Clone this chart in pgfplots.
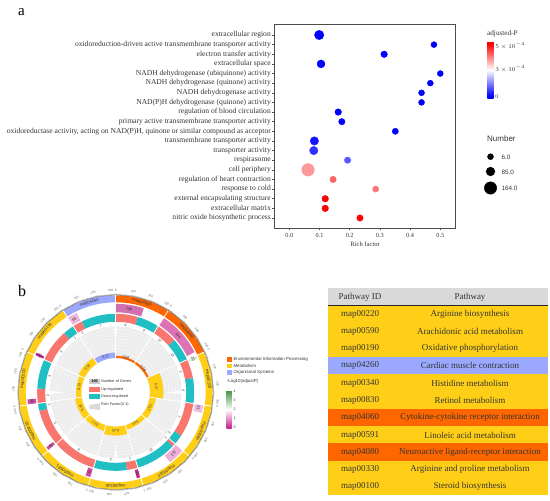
\documentclass[border=0pt]{standalone}
\usepackage{fontspec}
\setmainfont{Liberation Serif}
\setsansfont{Liberation Sans}
\usepackage{pgfplots}
\pgfplotsset{compat=1.18}
\usepgfplotslibrary{polar}
\usepackage{pgfplotstable}

\definecolor{envc}{HTML}{FF6600}
\definecolor{metc}{HTML}{FFCF17}
\definecolor{orgc}{HTML}{9AA9FF}
\definecolor{upc}{HTML}{F8766D}
\definecolor{dnc}{HTML}{1FBFC3}
\definecolor{txt}{HTML}{333333}
\newcommand{\fs}[1]{\fontsize{#1}{#1}\selectfont}
\tikzset{
  tab/.style={font=\fs{9},text=txt,inner sep=0pt},
  leg/.style={font=\sffamily\fs{4.4},text=txt,anchor=west,inner sep=0pt},
  ol/.style={font=\sffamily\fs{3},text=black!60,inner sep=0pt},
  sl/.style={font=\sffamily\fs{4.2},text=txt,inner sep=0pt},
  nl/.style={font=\sffamily\fs{3.8},text=txt,inner sep=0pt},
  il/.style={font=\sffamily\fs{3.5},text=txt,inner sep=0pt},
}

% rich factor, row, mark radius, adjusted-P (x 1e-4)
\pgfplotstableread{
x y r p
0.099 1 4.7 0
0.479 2 3.0 0
0.314 3 3.3 0
0.105 4 4.0 0
0.500 5 3.0 0
0.467 6 3.0 0
0.438 7 3.0 0
0.438 8 3.0 0
0.162 9 3.3 0
0.174 10 3.2 0
0.351 11 3.1 0
0.083 12 4.2 0.2
0.081 13 4.2 0.5
0.193 14 3.2 0.9
0.062 15 6.3 3.65
0.145 16 3.2 4.2
0.286 17 3.1 4.0
0.119 18 3.3 5.4
0.119 19 3.3 5.4
0.234 20 3.2 5.4
}\bubbles

% arc in the polar axis: clockwise degrees from north
\newcommand{\seg}[5][]{% opts, radius, width, from, to
  \gdef\pts{}%
  \foreach \i in {0,...,8}{%
    \pgfmathsetmacro\a{90-(#4+(#5-#4)*\i/8)}%
    \xdef\pts{\pts (\a,#2)}}%
  \edef\temp{\noexpand\addplot[line width=#3pt,#1] coordinates {\pts};}\temp}
\newcommand{\lab}[4]{% style, angle, radius, text
  \pgfmathsetmacro\a{90-#2}\pgfmathsetmacro\rr{0-#2}%
  \edef\temp{\noexpand\node[#1,rotate=\rr] at (axis cs:\a,#3) {#4};}\temp}
\newcommand{\ray}[4][white]{% colour, angle, r1, r2
  \pgfmathsetmacro\a{90-#2}%
  \edef\temp{\noexpand\addplot[draw=#1,line width=.8pt] coordinates {(\a,#3)(\a,#4)};}\temp}
% table row in the page axis
\newcommand{\trow}[6]{% colour, y1, y2, ycentre, id, pathway
  \addplot[fill=#1,draw=none] coordinates {(328,#2)(548,#2)(548,#3)(328,#3)} --cycle;
  \node[tab] at (axis cs:360,#4) {#5};
  \node[tab] at (axis cs:470,#4) {#6};}

\begin{document}
\begin{tikzpicture}
\useasboundingbox (0,0) rectangle (550pt,501pt);

% page axis: 1 unit = 1 px of the reference, y downwards
\begin{axis}[
  at={(0pt,0pt)},anchor=south west,
  scale only axis,width=550pt,height=501pt,
  xmin=0,xmax=550,ymin=0,ymax=501,y dir=reverse,
  hide axis,clip=false,
]
\node[font=\fs{15},anchor=west,inner sep=0pt] at (axis cs:18,12) {a};
\node[font=\fs{16},anchor=west,inner sep=0pt] at (axis cs:18,291) {b};

% size legend of the bubble plot
\node[font=\sffamily\fs{8},text=txt,anchor=west,inner sep=0pt] at (axis cs:487,139) {Number};
\addplot[only marks,mark=*,black,mark size=3] coordinates {(490.5,156.7)};
\addplot[only marks,mark=*,black,mark size=4.4] coordinates {(490.5,171.5)};
\addplot[only marks,mark=*,black,mark size=6.2] coordinates {(490.5,188)};
\node[font=\sffamily\fs{6.3},text=txt,anchor=west,inner sep=0pt] at (axis cs:501.5,157) {6.0};
\node[font=\sffamily\fs{6.3},text=txt,anchor=west,inner sep=0pt] at (axis cs:501.5,172) {85.0};
\node[font=\sffamily\fs{6.3},text=txt,anchor=west,inner sep=0pt] at (axis cs:501.5,188) {164.0};
\node[font=\fs{7.2},text=txt,anchor=west,inner sep=0pt] at (axis cs:487,34) {adjusted-P};

% table
\addplot[fill=black!15,draw=none] coordinates {(328,288.3)(548,288.3)(548,305)(328,305)} --cycle;
\node[tab] at (axis cs:360,297) {Pathway ID};
\node[tab] at (axis cs:470,297) {Pathway};
\trow{metc}{305}{322.3}{314}{map00220}{Arginine biosynthesis}
\trow{metc}{322.3}{339.5}{331.3}{map00590}{Arachidonic acid metabolism}
\trow{metc}{339.5}{356.8}{348.6}{map00190}{Oxidative phosphorylation}
\trow{orgc}{356.8}{374.1}{365.9}{map04260}{Cardiac muscle contraction}
\trow{metc}{374.1}{391.4}{383.2}{map00340}{Histidine metabolism}
\trow{metc}{391.4}{408.6}{400.4}{map00830}{Retinol metabolism}
\trow{envc}{408.6}{425.9}{417.7}{map04060}{Cytokine-cytokine receptor interaction}
\trow{metc}{425.9}{443.2}{435}{map00591}{Linoleic acid metabolism}
\trow{envc}{443.2}{460.5}{452.3}{map04080}{Neuroactive ligand-receptor interaction}
\trow{metc}{460.5}{477.7}{469.6}{map00330}{Arginine and proline metabolism}
\trow{metc}{477.7}{495}{486.8}{map00100}{Steroid biosynthesis}
\addplot[black!85,line width=.9pt] coordinates {(328,305)(548,305)};

% legend of the circular plot
\addplot[fill=envc,draw=none] coordinates {(227,357.3)(231.7,357.3)(231.7,362)(227,362)} --cycle;
\addplot[fill=metc,draw=none] coordinates {(227,363.7)(231.7,363.7)(231.7,368.3)(227,368.3)} --cycle;
\addplot[fill=orgc,draw=none] coordinates {(227,370.2)(231.7,370.2)(231.7,374.8)(227,374.8)} --cycle;
\node[leg] at (axis cs:233.3,359.7) {Environmental Information Processing};
\node[leg] at (axis cs:233.3,366) {Metabolism};
\node[leg] at (axis cs:233.3,372.5) {Organismal Systems};
\node[leg] at (axis cs:226.7,381.7) {-Log10(adjustP)};
\node[leg,font=\sffamily\fs{3.6}] at (axis cs:233.3,391.7) {4};
\node[leg,font=\sffamily\fs{3.6}] at (axis cs:233.3,400.7) {3};
\node[leg,font=\sffamily\fs{3.6}] at (axis cs:233.3,409.3) {2};
\node[leg,font=\sffamily\fs{3.6}] at (axis cs:233.3,418.3) {1};
\node[leg,font=\sffamily\fs{3.6}] at (axis cs:233.3,427.7) {0};

% legend in the middle of the ring
\addplot[fill=black!20,draw=none] coordinates {(89.3,379)(100,379)(100,384)(89.3,384)} --cycle;
\addplot[fill=upc,draw=none] coordinates {(89.3,386.7)(100,386.7)(100,391.7)(89.3,391.7)} --cycle;
\addplot[fill=dnc,draw=none] coordinates {(89.3,394.3)(100,394.3)(100,399.3)(89.3,399.3)} --cycle;
\addplot[fill=black!15,draw=none] coordinates {(89.3,405)(100,403.3)(100,410)(89.3,408.7)} --cycle;
\node[font=\sffamily\bfseries\fs{3.8},inner sep=0pt] at (axis cs:94.6,381.6) {100};
\node[leg,font=\sffamily\fs{3.8}] at (axis cs:101,381.4) {Number of Genes};
\node[leg,font=\sffamily\fs{3.8}] at (axis cs:101,389.3) {Up-regulated};
\node[leg,font=\sffamily\fs{3.8}] at (axis cs:101,396.8) {Down-regulated};
\node[leg,font=\sffamily\fs{3.8}] at (axis cs:101,404.4) {Rich Factor(0-1)};
\end{axis}

% bubble plot
\begin{axis}[
  at={(274.5pt,273pt)},anchor=south west,
  scale only axis,width=181.2pt,height=203.3pt,
  xmin=-0.049,xmax=0.551,ymin=-0.07,ymax=21.04,y dir=reverse,
  axis line style={draw=black!70,line width=.7pt},
  tick style={draw=black!70,line width=.5pt},
  tick align=outside,major tick length=2pt,
  xtick={0,0.1,0.2,0.3,0.4,0.5},
  ytick={1,...,20},
  xtick pos=bottom,ytick pos=left,
  /pgf/number format/assume math mode=true,
  xticklabel style={font=\fs{6.3},text=txt,/pgf/number format/fixed,/pgf/number format/fixed zerofill,/pgf/number format/precision=1},
  yticklabel style={font=\fs{7.58},text=txt,inner sep=1.5pt},
  yticklabels={extracellular region,
    oxidoreduction-driven active transmembrane transporter activity,
    electron transfer activity,
    extracellular space,
    NADH dehydrogenase (ubiquinone) activity,
    NADH dehydrogenase (quinone) activity,
    NADH dehydrogenase activity,
    NAD(P)H dehydrogenase (quinone) activity,
    regulation of blood circulation,
    primary active transmembrane transporter activity,
    {oxidoreductase activity, acting on NAD(P)H, quinone or similar compound as acceptor},
    transmembrane transporter activity,
    transporter activity,
    respirasome,
    cell periphery,
    regulation of heart contraction,
    response to cold,
    external encapsulating structure,
    extracellular matrix,
    nitric oxide biosynthetic process},
  xlabel={Rich factor},
  xlabel style={font=\fs{6.6},text=txt,yshift=3pt},
  colormap={bwr}{rgb255(0)=(0,0,255); rgb255(1)=(0,0,255); rgb255(14)=(255,255,255); rgb255(27)=(255,0,0); rgb255(28)=(255,0,0)},
  point meta min=-0.2,point meta max=5.4,
  colorbar,
  colorbar style={
    at={(parent axis.south west)},anchor=north west,
    xshift=204.3pt,yshift=186.3pt,
    width=6.4pt,height=56.6pt,
    ytick={0,2.7,5},
    yticklabels={0,$3\times10^{-4}$,$5\times10^{-4}$},
    yticklabel style={font=\fs{5.6},text=txt,inner sep=1.5pt},
    major tick length=0pt,
    axis line style={draw=none},
  },
]
\addplot[scatter,only marks,mark=*,
  point meta=\thisrow{p},
  visualization depends on={\thisrow{r} \as \rad},
  scatter/use mapped color={draw=mapped color,fill=mapped color},
  scatter/@pre marker code/.append style={/tikz/mark size=\rad}]
  table[x=x,y=y] {\bubbles};
\end{axis}

% -log10 colour bar of the circular plot
\begin{axis}[
  at={(226.7pt,72pt)},anchor=south west,
  scale only axis,width=5pt,height=39pt,hide axis,
  colormap={pg}{rgb255(0)=(199,16,138); rgb255(2)=(255,255,255); rgb255(4)=(63,143,59)},
  point meta min=-0.1,point meta max=4.1,
  colorbar,
  colorbar style={
    at={(parent axis.south west)},anchor=south west,
    xshift=-8.5pt,
    width=5pt,height=39pt,
    ytick=\empty,
    axis line style={draw=none},
  },
]
\addplot[draw=none] coordinates {(0,0)(1,1)};
\end{axis}

% circular plot
\begin{polaraxis}[
  at={(115.7pt,108.7pt)},anchor=center,
  scale only axis,width=200pt,height=200pt,
  xmin=0,xmax=360,ymin=0,ymax=100,
  hide axis,clip=false,
]
% grey background with its concentric lines
\seg[draw=black!7]{50.15}{31.7}{0}{90}
\seg[draw=black!7]{50.15}{31.7}{90}{180}
\seg[draw=black!7]{50.15}{31.7}{180}{270}
\seg[draw=black!7]{50.15}{31.7}{270}{360}
\foreach \rc in {37.5,40.7,43.9,47.1,50.3,53.5,56.7,59.9,63.1}{%
  \foreach \st in {0,90,180,270}{%
    \pgfmathsetmacro\en{\st+90}%
    \edef\next{\noexpand\seg[draw=white]{\rc}{0.2}{\st}{\en}}\next}}

% outer ring with pathway class
\seg[draw=envc]{93.5}{7}{0}{32.73}
\seg[draw=envc]{93.5}{7}{32.73}{65.45}
\seg[draw=metc]{93.5}{7}{65.45}{98.18}
\seg[draw=metc]{93.5}{7}{98.18}{130.91}
\seg[draw=metc]{93.5}{7}{130.91}{163.64}
\seg[draw=metc]{93.5}{7}{163.64}{196.36}
\seg[draw=metc]{93.5}{7}{196.36}{229.09}
\seg[draw=metc]{93.5}{7}{229.09}{261.82}
\seg[draw=metc]{93.5}{7}{261.82}{294.55}
\seg[draw=metc]{93.5}{7}{294.55}{327.27}
\seg[draw=orgc]{93.5}{7}{327.27}{360}

% number of genes
\seg[draw={rgb,255:red,211;green,111;blue,176}]{84.25}{8.5}{0}{18.5}
\seg[draw={rgb,255:red,221;green,115;blue,180}]{84.25}{8.5}{32.73}{63}
\seg[draw={rgb,255:red,214;green,232;blue,207}]{84.25}{8.5}{65.45}{67.5}
\seg[draw={rgb,255:red,240;green,190;blue,224}]{84.25}{8.5}{98.18}{103.5}
\seg[draw={rgb,255:red,238;green,176;blue,216}]{84.25}{8.5}{130.91}{142.2}
\seg[draw={rgb,255:red,200;green,40;blue,145}]{84.25}{8.5}{163.64}{166.2}
\seg[draw={rgb,255:red,212;green,79;blue,165}]{84.25}{8.5}{196.36}{200}
\seg[draw={rgb,255:red,208;green,80;blue,165}]{84.25}{8.5}{229.09}{231.6}
\seg[draw={rgb,255:red,208;green,80;blue,168}]{84.25}{8.5}{261.82}{265.4}
\seg[draw={rgb,255:red,184;green,32;blue,138}]{84.25}{8.5}{294.55}{296.6}
\seg[draw={rgb,255:red,239;green,181;blue,216}]{84.25}{8.5}{327.27}{333.8}

% up and down regulated genes
\seg[draw=upc]{74.5}{8}{0}{16.36}
\seg[draw=dnc]{74.5}{8}{16.36}{32.73}
\seg[draw=upc]{74.5}{8}{32.73}{48.4}
\seg[draw=dnc]{74.5}{8}{48.4}{65.45}
\seg[draw=upc]{74.5}{8}{65.45}{79.5}
\seg[draw=dnc]{74.5}{8}{79.5}{98.18}
\seg[draw=upc]{74.5}{8}{98.18}{123.6}
\seg[draw=dnc]{74.5}{8}{123.6}{130.91}
\seg[draw=upc]{74.5}{8}{130.91}{133.43}
\seg[draw=dnc]{74.5}{8}{133.43}{163.64}
\seg[draw=upc]{74.5}{8}{163.64}{171.8}
\seg[draw=dnc]{74.5}{8}{171.8}{196.36}
\seg[draw=upc]{74.5}{8}{196.36}{229.09}
\seg[draw=upc]{74.5}{8}{229.09}{256.36}
\seg[draw=dnc]{74.5}{8}{256.36}{261.82}
\seg[draw=upc]{74.5}{8}{261.82}{272.73}
\seg[draw=dnc]{74.5}{8}{272.73}{294.55}
\seg[draw=upc]{74.5}{8}{294.55}{319.1}
\seg[draw=dnc]{74.5}{8}{319.1}{327.27}
\seg[draw=upc]{74.5}{8}{327.27}{334.5}
\seg[draw=dnc]{74.5}{8}{334.5}{360}

% rich factor bars: base 34.3, 36 units per 1.0
\seg[draw=envc]{35.4}{2.16}{0}{32.73}
\seg[draw=envc]{35.4}{2.16}{32.73}{65.45}
\seg[draw=metc]{41}{13.3}{65.45}{98.18}
\seg[draw=metc]{37.4}{6.1}{98.18}{130.91}
\seg[draw=metc]{36.65}{4.7}{130.91}{163.64}
\seg[draw=metc]{38.8}{9}{163.64}{196.36}
\seg[draw=metc]{37.4}{6.1}{196.36}{229.09}
\seg[draw=metc]{37.7}{6.8}{229.09}{261.82}
\seg[draw=metc]{37}{5.4}{261.82}{294.55}
\seg[draw=metc]{37.7}{6.8}{294.55}{327.27}
\seg[draw=orgc]{37}{5.4}{327.27}{360}

% separators between the sectors
\ray{32.73}{34}{97.2}
\ray{65.45}{34}{97.2}
\ray{98.18}{34}{97.2}
\ray{130.91}{34}{97.2}
\ray{163.64}{34}{97.2}
\ray{196.36}{34}{97.2}
\ray{229.09}{34}{97.2}
\ray{261.82}{34}{97.2}
\ray{294.55}{34}{97.2}
\ray{327.27}{34}{97.2}
\ray{0}{34}{97.2}

% scale on the outside
\seg[draw=black!65]{97.5}{0.3}{0}{90}
\seg[draw=black!65]{97.5}{0.3}{90}{180}
\seg[draw=black!65]{97.5}{0.3}{180}{270}
\seg[draw=black!65]{97.5}{0.3}{270}{360}
\seg[draw=black!65,dash pattern=on .2pt off .75pt]{98.1}{1}{0}{90}
\seg[draw=black!65,dash pattern=on .2pt off .75pt]{98.1}{1}{90}{180}
\seg[draw=black!65,dash pattern=on .2pt off .75pt]{98.1}{1}{180}{270}
\seg[draw=black!65,dash pattern=on .2pt off .75pt]{98.1}{1}{270}{360}
\foreach \st in {0,32.73,65.45,98.18,130.91,163.64,196.36,229.09,261.82,294.55,327.27}{%
  \foreach \m/\t in {0/0,1/100,2/200,3/300}{%
    \pgfmathsetmacro\ang{\st+\m*9.97}%
    \edef\next{\noexpand\lab{ol}{\ang}{102.3}{\t}}\next}}

% pathway names
\lab{sl}{16.36}{93.5}{map04060}
\lab{sl}{49.09}{93.5}{map04080}
\lab{sl}{81.82}{93.5}{map00220}
\lab{sl}{114.55}{93.5}{map00590}
\lab{sl}{147.27}{93.5}{map00330}
\lab{sl}{180}{93.5}{map00340}
\lab{sl}{212.73}{93.5}{map00591}
\lab{sl}{245.45}{93.5}{map00830}
\lab{sl}{278.18}{93.5}{map00100}
\lab{sl}{310.91}{93.5}{map00190}
\lab{sl}{343.64}{93.5}{map04260}

% gene counts
\lab{nl}{9.3}{84.25}{186}
\lab{nl}{47.9}{84.25}{304}
\lab{nl}{66.5}{84.25}{20}
\lab{nl}{100.8}{84.25}{53}
\lab{nl}{136.5}{84.25}{113}
\lab{nl}{164.9}{84.25}{26}
\lab{nl}{198.2}{84.25}{36}
\lab{nl}{230.3}{84.25}{25}
\lab{nl}{263.6}{84.25}{36}
\lab{nl}{295.6}{84.25}{20}
\lab{nl}{330.5}{84.25}{65}

% up and down counts
\lab{il}{8.2}{68}{9}
\lab{il}{24.5}{68}{9}
\lab{il}{40.6}{68}{12}
\lab{il}{57}{68}{13}
\lab{il}{72.5}{68}{3}
\lab{il}{88.8}{68}{4}
\lab{il}{110.9}{68}{7}
\lab{il}{127.3}{68}{2}
\lab{il}{132.2}{68}{1}
\lab{il}{148.5}{68}{12}
\lab{il}{167.7}{68}{1}
\lab{il}{184}{68}{3}
\lab{il}{212.7}{68}{9}
\lab{il}{242.7}{68}{5}
\lab{il}{259.1}{68}{1}
\lab{il}{267.3}{68}{2}
\lab{il}{283.6}{68}{4}
\lab{il}{306.8}{68}{3}
\lab{il}{323.2}{68}{1}
\lab{il}{330.9}{68}{2}
\lab{il}{347.3}{68}{7}

% rich factor values
\lab{il}{16.36}{36.5}{0.06}
\lab{il}{49.09}{36.5}{0.06}
\lab{il}{81.82}{41}{0.37}
\lab{il}{114.55}{37.4}{0.17}
\lab{il}{147.27}{36.65}{0.13}
\lab{il}{180}{38.8}{0.25}
\lab{il}{212.73}{37.4}{0.17}
\lab{il}{245.45}{37.7}{0.19}
\lab{il}{278.18}{37}{0.15}
\lab{il}{310.91}{37.7}{0.19}
\lab{il}{343.64}{37}{0.15}
\end{polaraxis}
\end{tikzpicture}
\end{document}
